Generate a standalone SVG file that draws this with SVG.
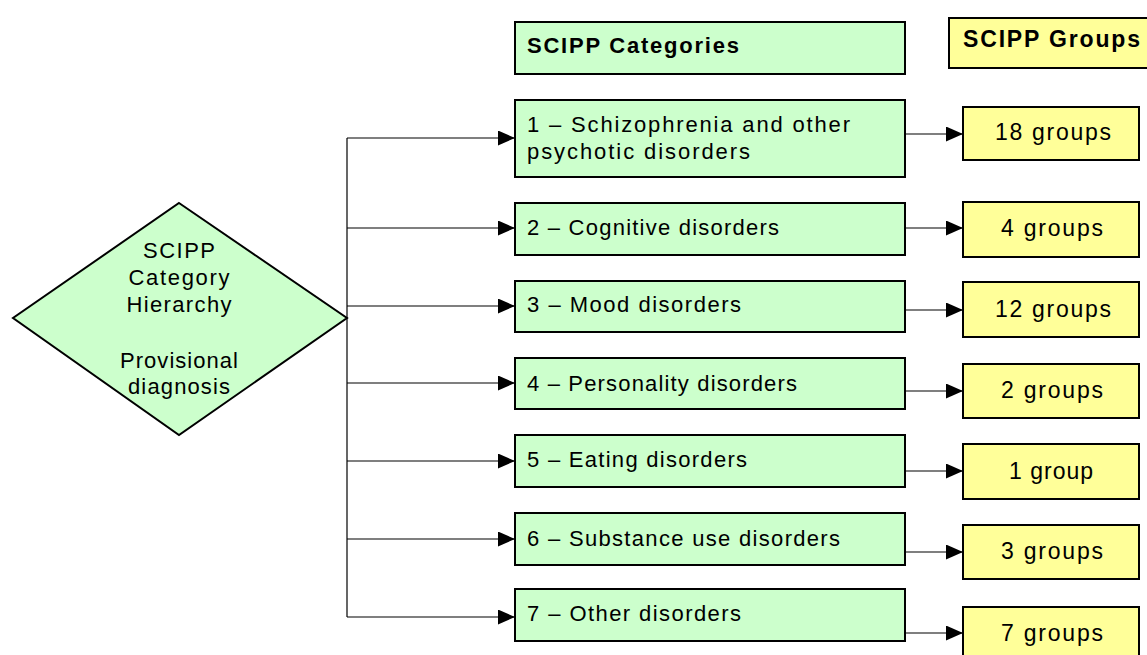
<svg xmlns="http://www.w3.org/2000/svg" width="1147" height="655" viewBox="0 0 1147 655">
<style>
.g{fill:#ccffcc;stroke:#000;stroke-width:2}
.y{fill:#ffff99;stroke:#000;stroke-width:2}
.t{font-family:"Liberation Sans",Arial,sans-serif;font-size:22px;fill:#000}
.b{font-weight:bold}
.c{text-anchor:middle}
.n{font-size:23px}
.l{fill:none;stroke:#000;stroke-width:1.2}
</style>
<defs>
<marker id="a" markerWidth="17" markerHeight="15" refX="17" refY="7.5" orient="auto" markerUnits="userSpaceOnUse">
<path d="M0,0 L17,7.5 L0,15 Z" fill="#000"/>
</marker>
</defs>
<rect width="1147" height="655" fill="#fff"/>
<g id="connectors">
<path class="l" d="M347,138 V617"/>
<path class="l" d="M347,138 H515" marker-end="url(#a)"/>
<path class="l" d="M347,228 H515" marker-end="url(#a)"/>
<path class="l" d="M347,306 H515" marker-end="url(#a)"/>
<path class="l" d="M347,383 H515" marker-end="url(#a)"/>
<path class="l" d="M347,461 H515" marker-end="url(#a)"/>
<path class="l" d="M347,539 H515" marker-end="url(#a)"/>
<path class="l" d="M347,617 H515" marker-end="url(#a)"/>
<path class="l" d="M905,134 H963" marker-end="url(#a)"/>
<path class="l" d="M905,228 H963" marker-end="url(#a)"/>
<path class="l" d="M905,310 H963" marker-end="url(#a)"/>
<path class="l" d="M905,391 H963" marker-end="url(#a)"/>
<path class="l" d="M905,471 H963" marker-end="url(#a)"/>
<path class="l" d="M905,552 H963" marker-end="url(#a)"/>
<path class="l" d="M905,633 H963" marker-end="url(#a)"/>
</g>
<g id="hierarchy">
<polygon class="g" points="179,203 347,318 179,435 13,318"/>
<text class="t c" x="179" y="258" textLength="72" lengthAdjust="spacing">SCIPP</text>
<text class="t c" x="179" y="285" textLength="101" lengthAdjust="spacing">Category</text>
<text class="t c" x="179" y="312" textLength="105" lengthAdjust="spacing">Hierarchy</text>
<text class="t c" x="179" y="368" textLength="118" lengthAdjust="spacing">Provisional</text>
<text class="t c" x="179" y="394" textLength="102" lengthAdjust="spacing">diagnosis</text>
</g>
<g id="cat-header">
<rect class="g" x="515" y="22" width="390" height="52"/>
<text class="t b" x="527" y="53" textLength="212" lengthAdjust="spacing">SCIPP Categories</text>
</g>
<g id="grp-header">
<rect class="y" x="949" y="18" width="205" height="50"/>
<text class="t b" x="963" y="47" style="font-size:23px" textLength="177" lengthAdjust="spacing">SCIPP Groups</text>
</g>
<g id="cat1">
<rect class="g" x="515" y="100" width="390" height="77"/>
<text class="t" x="527" y="132" textLength="323" lengthAdjust="spacing">1 – Schizophrenia and other</text>
<text class="t" x="527" y="159" textLength="223" lengthAdjust="spacing">psychotic disorders</text>
</g>
<g id="cat2">
<rect class="g" x="515" y="203" width="390" height="52"/>
<text class="t" x="527" y="235" textLength="252" lengthAdjust="spacing">2 – Cognitive disorders</text>
</g>
<g id="cat3">
<rect class="g" x="515" y="281" width="390" height="51"/>
<text class="t" x="527" y="312" textLength="214" lengthAdjust="spacing">3 – Mood disorders</text>
</g>
<g id="cat4">
<rect class="g" x="515" y="358" width="390" height="51"/>
<text class="t" x="527" y="391" textLength="270" lengthAdjust="spacing">4 – Personality disorders</text>
</g>
<g id="cat5">
<rect class="g" x="515" y="435" width="390" height="52"/>
<text class="t" x="527" y="467" textLength="220" lengthAdjust="spacing">5 – Eating disorders</text>
</g>
<g id="cat6">
<rect class="g" x="515" y="513" width="390" height="52"/>
<text class="t" x="527" y="546" textLength="313" lengthAdjust="spacing">6 – Substance use disorders</text>
</g>
<g id="cat7">
<rect class="g" x="515" y="589" width="390" height="52"/>
<text class="t" x="527" y="621" textLength="214" lengthAdjust="spacing">7 – Other disorders</text>
</g>
<g id="grp1">
<rect class="y" x="963" y="107" width="176" height="53"/>
<text class="t c n" x="1053" y="140" textLength="116" lengthAdjust="spacing">18 groups</text>
</g>
<g id="grp2">
<rect class="y" x="963" y="202" width="176" height="55"/>
<text class="t c n" x="1052" y="236" textLength="102" lengthAdjust="spacing">4 groups</text>
</g>
<g id="grp3">
<rect class="y" x="963" y="282" width="176" height="55"/>
<text class="t c n" x="1053" y="317" textLength="116" lengthAdjust="spacing">12 groups</text>
</g>
<g id="grp4">
<rect class="y" x="963" y="364" width="176" height="54"/>
<text class="t c n" x="1052" y="398" textLength="102" lengthAdjust="spacing">2 groups</text>
</g>
<g id="grp5">
<rect class="y" x="963" y="444" width="176" height="55"/>
<text class="t c n" x="1051" y="479" textLength="84" lengthAdjust="spacing">1 group</text>
</g>
<g id="grp6">
<rect class="y" x="963" y="525" width="176" height="54"/>
<text class="t c n" x="1052" y="559" textLength="102" lengthAdjust="spacing">3 groups</text>
</g>
<g id="grp7">
<rect class="y" x="963" y="607" width="176" height="54"/>
<text class="t c n" x="1052" y="641" textLength="102" lengthAdjust="spacing">7 groups</text>
</g>
</svg>
